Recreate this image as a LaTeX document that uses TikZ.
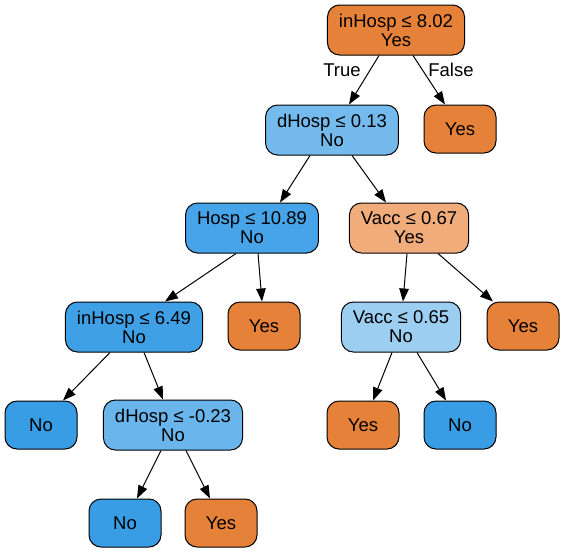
\documentclass[tikz,border=0pt]{standalone}
\usepackage{fontspec}
\setmainfont{Liberation Sans}
\usetikzlibrary{arrows.meta}

\definecolor{arancio}{HTML}{E58139}
\definecolor{arancioch}{HTML}{F0AC7B}
\definecolor{blu}{HTML}{399DE5}
\definecolor{blua}{HTML}{3FA0E6}
\definecolor{blub}{HTML}{47A4E8}
\definecolor{bluc}{HTML}{6AB5EB}
\definecolor{blud}{HTML}{74BAED}
\definecolor{blue2}{HTML}{9CCEF2}

\tikzset{
    splitbox/.style={draw, line width=1pt, rounded corners=12pt, align=center,
        inner xsep=11.5pt, minimum height=50pt, font=\fontsize{18.5}{19}\selectfont},
    leafbox/.style={draw, line width=1pt, rounded corners=12pt, align=center,
        minimum width=72pt, minimum height=48pt, font=\fontsize{18.5}{19}\selectfont},
    freccia/.style={line width=1pt, -{Triangle[length=13pt,width=9.5pt]}},
    etichetta/.style={font=\fontsize{18.5}{19}\selectfont}
}

\begin{document}
\begin{tikzpicture}[x=1pt,y=-1pt]
    \useasboundingbox (0,0) rectangle (564,552);

    % Radice
    \node[splitbox, fill=arancio] (root) at (396,30) {inHosp ≤ 8.02\\Yes};

    % Livello 1
    \node[splitbox, fill=blud] (dh1) at (332,130) {dHosp ≤ 0.13\\No};
    \node[leafbox, fill=arancio] (yes1) at (460,129) {Yes};

    % Livello 2
    \node[splitbox, fill=blub] (hosp) at (252,228) {Hosp ≤ 10.89\\No};
    \node[splitbox, fill=arancioch] (vacc1) at (409,228) {Vacc ≤ 0.67\\Yes};

    % Livello 3
    \node[splitbox, fill=blua] (inh) at (134,327) {inHosp ≤ 6.49\\No};
    \node[leafbox, fill=arancio] (yes2) at (264,326) {Yes};
    \node[splitbox, fill=blue2] (vacc2) at (401,327) {Vacc ≤ 0.65\\No};
    \node[leafbox, fill=arancio] (yes3) at (523,326) {Yes};

    % Livello 4
    \node[leafbox, fill=blu] (no1) at (41,425) {No};
    \node[splitbox, fill=bluc] (dh2) at (173,425) {dHosp ≤ -0.23\\No};
    \node[leafbox, fill=arancio] (yes4) at (363,425) {Yes};
    \node[leafbox, fill=blu] (no2) at (460,425) {No};

    % Livello 5
    \node[leafbox, fill=blu] (no3) at (125,523) {No};
    \node[leafbox, fill=arancio] (yes5) at (221,523) {Yes};

    % Archi
    \draw[freccia] ([xshift=-17pt]root.south) -- ([xshift=17pt]dh1.north);
    \draw[freccia] ([xshift=17pt]root.south) -- ([xshift=-15pt]yes1.north);
    \draw[freccia] ([xshift=-22pt]dh1.south) -- ([xshift=28pt]hosp.north);
    \draw[freccia] ([xshift=20pt]dh1.south) -- ([xshift=-23pt]vacc1.north);
    \draw[freccia] ([xshift=-16pt]hosp.south) -- ([xshift=31pt]inh.north);
    \draw[freccia] ([xshift=6pt]hosp.south) -- ([xshift=-2pt]yes2.north);
    \draw[freccia] ([xshift=-2pt]vacc1.south) -- ([xshift=2pt]vacc2.north);
    \draw[freccia] ([xshift=29pt]vacc1.south) -- ([xshift=-30pt]yes3.north);
    \draw[freccia] ([xshift=-24pt]inh.south) -- ([xshift=22pt]no1.north);
    \draw[freccia] ([xshift=10pt]inh.south) -- ([xshift=-10pt]dh2.north);
    \draw[freccia] ([xshift=-12pt]dh2.south) -- ([xshift=12pt]no3.north);
    \draw[freccia] ([xshift=13pt]dh2.south) -- ([xshift=-11pt]yes5.north);
    \draw[freccia] ([xshift=-9pt]vacc2.south) -- ([xshift=10pt]yes4.north);
    \draw[freccia] ([xshift=16pt]vacc2.south) -- ([xshift=-14pt]no2.north);

    % Etichette
    \node[etichetta] (vero) at (342,70) {True};
    \node[etichetta] (falso) at (451,70) {False};
\end{tikzpicture}
\end{document}
